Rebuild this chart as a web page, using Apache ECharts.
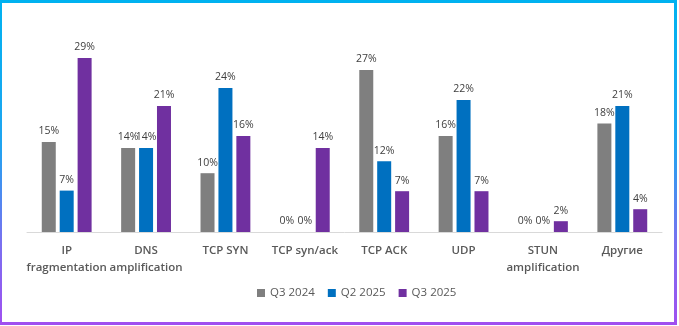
<!DOCTYPE html>
<html>
<head>
<meta charset="utf-8">
<script src="https://cdn.jsdelivr.net/npm/echarts@6/dist/echarts.min.js"></script>
<style>
html,body{margin:0;padding:0;background:#fff;}
#frame{position:absolute;left:0;top:0;width:677px;height:325px;background:linear-gradient(to bottom,#00b2f0 0%,#20a4f0 45%,#7a70f0 75%,#a04ff0 100%);}
#chart{position:absolute;left:2px;top:3px;width:672px;height:319px;background:#fff;}
</style>
</head>
<body>
<div id="frame"><div id="chart"></div></div>
<script>
const categories = ['IP\nfragmentation','DNS\namplification','TCP SYN','TCP syn/ack','TCP ACK','UDP','STUN\namplification','Другие'];
const seriesNames = ['Q3 2024','Q2 2025','Q3 2025'];
const q3_2024 = [15, 14, 9.8, 0, 27, 16, 0, 18.1];
const q2_2025 = [6.9, 14, 24, 0, 11.8, 22, 0, 21];
const q3_2025 = [29, 21, 16, 14, 6.8, 6.8, 1.8, 3.8];
const colors = ['#7f7f7f','#0070c0','#7030a0'];

const chart = echarts.init(document.getElementById('chart'));
const font = '"Open Sans","Noto Sans",sans-serif';
function mk(name, data, color){
  return {
    name, type:'bar', data, barWidth:14, barGap:'28%',
    itemStyle:{color},
    label:{show:true, position:'top', distance:5, color:'#404040', fontSize:10.5, fontFamily:font,
      formatter:p=>Math.round(p.value)+'%'}
  };
}
chart.setOption({
  animation:false,
  grid:{left:25, right:12, top:49, bottom:90},
  legend:{
    data:seriesNames, left:250, top:279, itemWidth:8, itemHeight:8, itemGap:13,
    icon:'rect', textStyle:{color:'#595959', fontSize:11.5, fontFamily:font}
  },
  xAxis:{
    type:'category', data:categories,
    axisLine:{lineStyle:{color:'#d9d9d9', width:1}},
    axisTick:{show:false},
    axisLabel:{color:'#595959', fontSize:11.5, fontWeight:600, fontFamily:font, margin:10, lineHeight:17, interval:0}
  },
  yAxis:{type:'value', min:0, max:30, show:false, splitLine:{show:false}},
  series:[mk(seriesNames[0], q3_2024, colors[0]), mk(seriesNames[1], q2_2025, colors[1]), mk(seriesNames[2], q3_2025, colors[2])]
});
</script>
</body>
</html>
